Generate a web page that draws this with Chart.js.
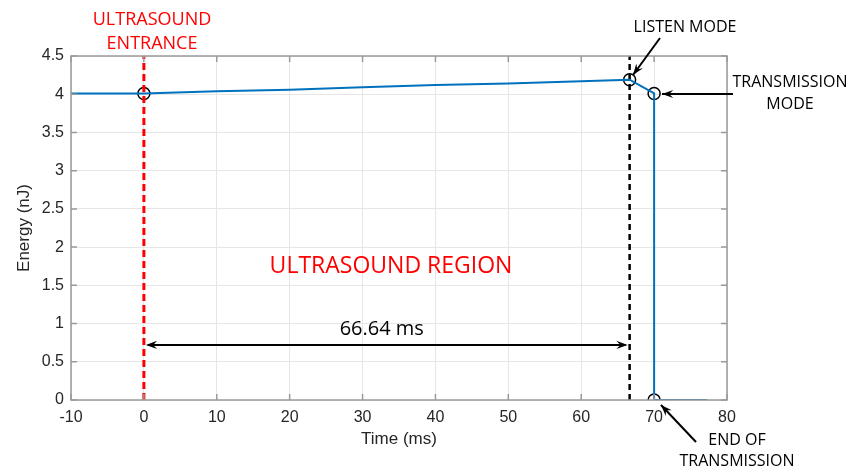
<!DOCTYPE html>
<html>
<head>
<meta charset="utf-8">
<script src="https://cdn.jsdelivr.net/npm/chart.js@4"></script>
<style>
  html, body { margin: 0; padding: 0; background: #fff; }
  #wrap { width: 848px; height: 470px; }
</style>
</head>
<body>
<div id="wrap"><canvas id="energyChart" width="848" height="470"></canvas></div>
<script>
// energy trace
const timeMs = [-10, 0, 10, 20, 30, 40, 50, 60, 66.64, 70, 70, 77.3];
const energyNJ = [4.01, 4.01, 4.04, 4.06, 4.09, 4.12, 4.14, 4.17, 4.19, 4.01, 0, 0];

// marked events
const eventTimes = [0, 66.64, 70, 70];
const eventEnergy = [4.01, 4.19, 4.01, 0];

const entranceTime = 0;
const listenTime = 66.64;
const arrowLevel = 0.72;

const xTicks = [-10, 0, 10, 20, 30, 40, 50, 60, 70, 80];
const yTicks = [0, 0.5, 1, 1.5, 2, 2.5, 3, 3.5, 4, 4.5];

function toPoints(xs, ys) {
    return xs.map(function (x, i) { return { x: x, y: ys[i] }; });
}

const FONT = '"Liberation Sans", Arial, sans-serif';
const LABEL_FONT = '"Open Sans", "Noto Sans", sans-serif';

function arrowHead(ctx, x1, y1, x2, y2, size) {
    const a = Math.atan2(y2 - y1, x2 - x1);
    ctx.beginPath();
    ctx.moveTo(x2, y2);
    ctx.lineTo(x2 - size * Math.cos(a - 0.35), y2 - size * Math.sin(a - 0.35));
    ctx.lineTo(x2 - size * 0.6 * Math.cos(a), y2 - size * 0.6 * Math.sin(a));
    ctx.lineTo(x2 - size * Math.cos(a + 0.35), y2 - size * Math.sin(a + 0.35));
    ctx.closePath();
    ctx.fill();
}

function arrow(ctx, x1, y1, x2, y2, size) {
    ctx.beginPath();
    ctx.moveTo(x1, y1);
    ctx.lineTo(x2, y2);
    ctx.stroke();
    arrowHead(ctx, x1, y1, x2, y2, size);
}

// frame, inner ticks and all the callouts
const annotations = {
    id: 'annotations',
    afterDraw: function (chart) {
        const ctx = chart.ctx;
        const xs = chart.scales.x, ys = chart.scales.y;
        const a = chart.chartArea;
        ctx.save();

        // box on top / right like matlab
        ctx.strokeStyle = '#9a9a9a';
        ctx.lineWidth = 1.5;
        ctx.strokeRect(a.left, a.top, a.right - a.left, a.bottom - a.top);
        ctx.beginPath();
        xTicks.forEach(function (t) {
            const px = xs.getPixelForValue(t);
            ctx.moveTo(px, a.bottom); ctx.lineTo(px, a.bottom - 6);
            ctx.moveTo(px, a.top); ctx.lineTo(px, a.top + 6);
        });
        yTicks.forEach(function (t) {
            const py = ys.getPixelForValue(t);
            ctx.moveTo(a.left, py); ctx.lineTo(a.left + 6, py);
            ctx.moveTo(a.right, py); ctx.lineTo(a.right - 6, py);
        });
        ctx.stroke();

        // 66.64 ms span
        const x0 = xs.getPixelForValue(entranceTime);
        const x1 = xs.getPixelForValue(listenTime);
        const ya = ys.getPixelForValue(arrowLevel);
        ctx.strokeStyle = '#000';
        ctx.fillStyle = '#000';
        ctx.lineWidth = 2;
        ctx.beginPath();
        ctx.moveTo(x0 + 4, ya); ctx.lineTo(x1 - 4, ya);
        ctx.stroke();
        arrowHead(ctx, x1 - 30, ya, x0 + 2, ya, 12);
        arrowHead(ctx, x0 + 30, ya, x1 - 2, ya, 12);

        ctx.textAlign = 'center';
        ctx.textBaseline = 'middle';
        ctx.font = '20px ' + LABEL_FONT;
        ctx.fillText('66.64 ms', (x0 + x1) / 2 - 5, 329);

        ctx.fillStyle = '#ff0000';
        ctx.font = '23px ' + LABEL_FONT;
        ctx.fillText('ULTRASOUND REGION', 391, 266);

        ctx.font = '18px ' + LABEL_FONT;
        ctx.fillText('ULTRASOUND', 152, 20);
        ctx.fillText('ENTRANCE', 152, 44);

        ctx.fillStyle = '#000';
        ctx.font = '16px ' + LABEL_FONT;
        ctx.fillText('LISTEN MODE', 685, 27);
        ctx.fillText('TRANSMISSION', 790, 82);
        ctx.fillText('MODE', 790, 104);
        ctx.fillText('END OF', 737, 440);
        ctx.fillText('TRANSMISSION', 737, 461);

        ctx.lineWidth = 2;
        arrow(ctx, 660, 38, 633, 75, 12);
        arrow(ctx, 733, 94, 662, 94, 12);
        arrow(ctx, 696, 442, 661, 405, 12);

        ctx.restore();
    }
};

function renderEnergyChart() {
    const ctx = document.getElementById('energyChart').getContext('2d');
    new Chart(ctx, {
        type: 'scatter',
        data: {
            datasets: [{
                data: toPoints(timeMs, energyNJ),
                showLine: true,
                borderColor: '#0072BD',
                borderWidth: 2,
                pointRadius: 0
            }, {
                data: toPoints([entranceTime, entranceTime], [0, 4.5]),
                showLine: true,
                borderColor: '#ff0000',
                borderWidth: 3,
                borderDash: [7, 4],
                pointRadius: 0
            }, {
                data: toPoints([listenTime, listenTime], [0, 4.5]),
                showLine: true,
                borderColor: '#000',
                borderWidth: 2.5,
                borderDash: [6, 4],
                pointRadius: 0
            }, {
                data: toPoints(eventTimes, eventEnergy),
                showLine: false,
                pointStyle: 'circle',
                pointRadius: 6,
                pointBorderWidth: 1.5,
                pointBorderColor: '#000',
                pointBackgroundColor: 'rgba(0,0,0,0)'
            }]
        },
        options: {
            responsive: false,
            animation: false,
            events: [],
            layout: { padding: { top: 56, right: 121, left: 0, bottom: 0 } },
            plugins: {
                legend: { display: false },
                tooltip: { enabled: false }
            },
            scales: {
                x: {
                    type: 'linear',
                    min: -10,
                    max: 80,
                    afterFit: function (s) { s.height = 70; },
                    afterBuildTicks: function (s) { s.ticks = xTicks.map(function (v) { return { value: v }; }); },
                    grid: { color: '#e6e6e6', drawTicks: false },
                    border: { display: false },
                    ticks: { color: '#262626', font: { family: FONT, size: 16 }, padding: 8 },
                    title: { display: true, text: 'Time (ms)', color: '#262626', font: { family: FONT, size: 17 }, padding: { top: 0, bottom: 20 } }
                },
                y: {
                    min: 0,
                    max: 4.5,
                    afterFit: function (s) { s.width = 71; },
                    afterBuildTicks: function (s) { s.ticks = yTicks.map(function (v) { return { value: v }; }); },
                    grid: { color: '#e6e6e6', drawTicks: false },
                    border: { display: false },
                    ticks: {
                        color: '#262626', font: { family: FONT, size: 16 }, padding: 7,
                        callback: function (v) { return String(v); }
                    },
                    title: { display: true, text: 'Energy (nJ)', color: '#262626', font: { family: FONT, size: 17 }, padding: { top: 14, bottom: 0 } }
                }
            }
        },
        plugins: [annotations]
    });
}

renderEnergyChart();
</script>
</body>
</html>
